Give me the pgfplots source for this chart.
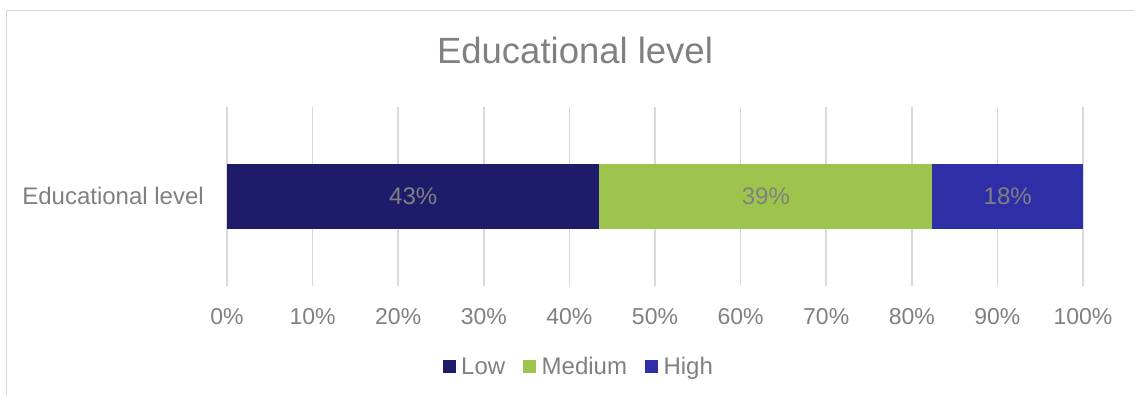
\documentclass[border=0pt]{standalone}
\usepackage{pgfplots}
\pgfplotsset{compat=1.18}
\usepackage{fontspec}
\setmainfont{Liberation Sans}
\definecolor{lowc}{HTML}{1E1B6A}
\definecolor{medc}{HTML}{9DC44C}
\definecolor{highc}{HTML}{2E2EA6}
\definecolor{txt}{HTML}{808080}
\definecolor{gridc}{HTML}{D9D9D9}
\begin{document}
\begin{tikzpicture}[x=1pt,y=1pt]
\useasboundingbox (0,0) rectangle (1134,396);
\draw[gridc, line width=1.3pt] (6.5,0) -- (6.5,385.5) -- (1134,385.5);
\node[text=txt, font=\fontsize{36.5}{42}\selectfont, anchor=base, inner sep=0pt] at (575,332) {Educational level};
\begin{axis}[
  at={(227pt,110pt)}, anchor=south west, scale only axis,
  width=856pt, height=179pt,
  xbar stacked, bar width=65pt,
  xmin=0, xmax=100, ymin=-0.5, ymax=0.5,
  ytick={0}, yticklabels={Educational level},
  xtick={0,10,...,100},
  xticklabels={0\%,10\%,20\%,30\%,40\%,50\%,60\%,70\%,80\%,90\%,100\%},
  xmajorgrids, grid style={gridc, line width=1.5pt},
  axis line style={draw=none}, tick style={draw=none},
  ticklabel style={font=\fontsize{23}{28}\selectfont, text=txt},
  xticklabel style={anchor=base, yshift=-38pt},
  yticklabel style={anchor=base east, inner sep=0pt, xshift=-23pt, yshift=-8.5pt, font=\fontsize{24}{28}\selectfont},
  legend columns=3,
  legend style={at={(0.411,-0.4525)}, anchor=center, draw=none, fill=none,
    font=\fontsize{24}{28}\selectfont, text=txt,
    /tikz/every odd column/.append style={column sep=3.5pt},
    /tikz/every even column/.append style={column sep=16pt}},
  legend image code/.code={\fill[#1] (0pt,-6.5pt) rectangle (13pt,6.5pt);},
]
\addplot[fill=lowc, draw=none] coordinates {(43.5,0)};
\addlegendentry{Low}
\addplot[fill=medc, draw=none] coordinates {(38.9,0)};
\addlegendentry{Medium}
\addplot[fill=highc, draw=none] coordinates {(17.6,0)};
\addlegendentry{High}
\end{axis}
\begin{axis}[
  at={(227pt,110pt)}, anchor=south west, scale only axis,
  width=856pt, height=179pt,
  xmin=0, xmax=100, ymin=-0.5, ymax=0.5, hide axis,
]
\addplot[draw=none, mark=none, nodes near coords, point meta=explicit symbolic,
  every node near coord/.append style={anchor=center, font=\fontsize{24}{28}\selectfont, text=txt}]
  coordinates {(21.75,0)[43\%] (62.95,0)[39\%] (91.2,0)[18\%]};
\end{axis}
\end{tikzpicture}
\end{document}
